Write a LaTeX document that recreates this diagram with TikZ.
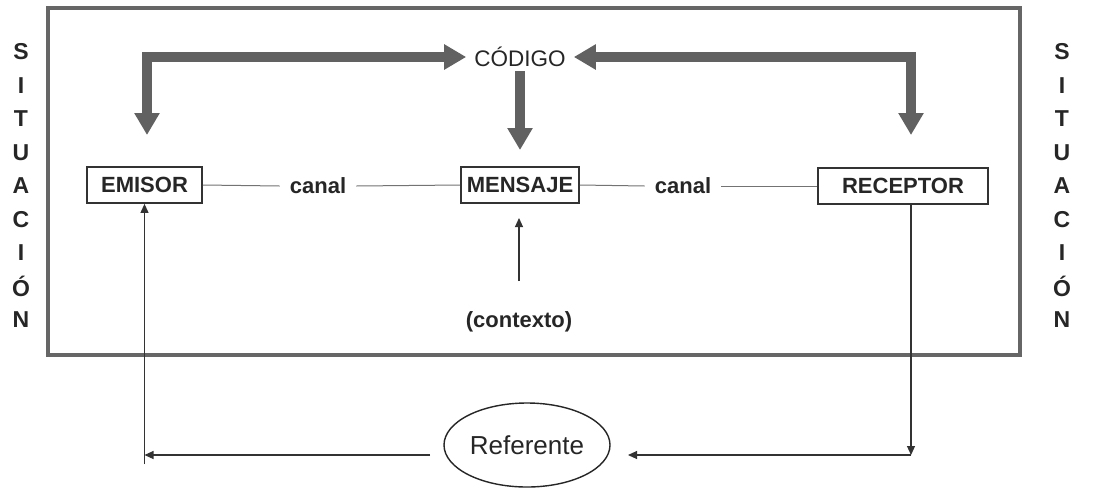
\documentclass[tikz,border=0pt]{standalone}
\usepackage{fontspec}
\setmainfont{Liberation Sans}
\usetikzlibrary{arrows.meta,shapes.geometric,calc}
\begin{document}
\begin{tikzpicture}[x=1pt,y=-1pt,
  lbl/.style={font=\fontsize{22}{26}\selectfont\bfseries, text=black!85, inner sep=0pt},
  box/.style={draw=black!80, line width=1.8pt, font=\fontsize{22}{26}\selectfont\bfseries, text=black!85, minimum height=36pt, inner sep=0pt},
  letter/.style={font=\fontsize{23}{26}\selectfont\bfseries, text=black!85, inner sep=0pt},
  bigarrow/.style={line width=10pt, draw=black!62, line join=miter},
  bigtip/.style={-{Triangle[length=22pt,width=24pt]}},
  frameline/.style={draw=black!60, line width=3.2pt},
  canalline/.style={draw=black!55, line width=1pt},
  thinarrow/.style={draw=black!80, line width=1.1pt},
  thintip/.style={-{Triangle[length=9pt,width=8pt]}}
]
\useasboundingbox (0,0) rectangle (1099,488);
\fill[white] (0,0) rectangle (1099,488);

% frame
\draw[frameline] (48,8) rectangle (1020,355);

% SITUACION letters
\foreach \l [count=\i from 0] in {S,I,T,U,A,C,I,Ó,N} {
  \node[letter] (sl\i) at (21,52+33.5*\i) {\l};
  \node[letter] (sr\i) at (1062,52+33.5*\i) {\l};
}

% main nodes
\node[font=\fontsize{22.5}{26}\selectfont, text=black!85, inner xsep=8pt, inner ysep=4pt] (cod) at (520,57) {CÓDIGO};
\node[box, minimum width=115pt] (emi) at (144.5,185) {EMISOR};
\node[box, minimum width=118pt] (men) at (520,185) {MENSAJE};
\node[box, minimum width=170pt] (rec) at (903,186) {RECEPTOR};
\node[lbl, inner xsep=10pt, inner ysep=3pt] (can1) at (318,186) {canal};
\node[lbl, inner xsep=10pt, inner ysep=3pt] (can2) at (683,186) {canal};
\node[lbl] (ctx) at (519,322) {(contexto)};
\node[draw=black!85, line width=1.4pt, ellipse, minimum width=166pt, minimum height=84pt, inner sep=0pt,
      font=\fontsize{26}{30}\selectfont, text=black!85] (ref) at (527,445) {Referente};

% coordinates
\coordinate (cornL) at (147,57);
\coordinate (cornR) at (911,57);
\coordinate (tipL) at (147,135);
\coordinate (tipR) at (911,135);
\coordinate (tipM) at (520,150);
\coordinate (ctxtip) at (519,218);
\coordinate (ctxbot) at (519,281);
\coordinate (cL) at (144.5,455);
\coordinate (cLb) at (144.5,464);
\coordinate (cR) at (911,455);
\coordinate (refR) at (628,455);
\coordinate (refL) at (430,455);

% thick arrows
\draw[bigarrow, {Triangle[length=22pt,width=24pt]}-{Triangle[length=22pt,width=24pt]}] (tipL) -- (cornL) -- (cod.west);
\draw[bigarrow, {Triangle[length=22pt,width=24pt]}-{Triangle[length=22pt,width=24pt]}] (tipR) -- (cornR) -- (cod.east);
\draw[bigarrow, bigtip] (cod.south) -- (tipM);

% canal lines
\draw[canalline] (emi.east) -- (can1.west);
\draw[canalline] (can1.east) -- (men.west);
\draw[canalline] (men.east) -- (can2.west);
\draw[canalline] (can2.east) -- (rec.west);

% thin arrows
\draw[thinarrow, thintip] (ctxbot) -- (ctxtip);
\draw[thinarrow, thintip] (rec.south -| cR) -- (cR);
\draw[thinarrow, thintip] (cR) -- (refR);
\draw[thinarrow, thintip] (refL) -- (cL);
\draw[thinarrow, thintip] (cLb) -- (emi.south);
\end{tikzpicture}
\end{document}
